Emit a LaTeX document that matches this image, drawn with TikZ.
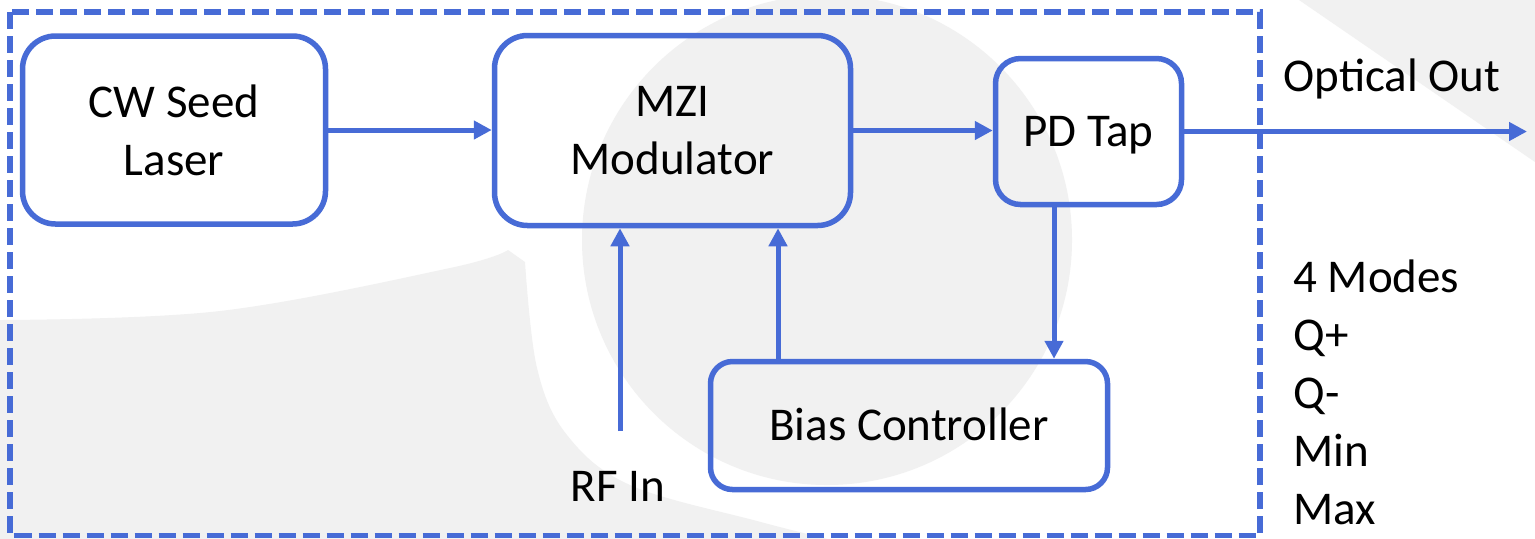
\documentclass[tikz,border=0pt]{standalone}
\usepackage{fontspec}
\setmainfont{Carlito}
\usetikzlibrary{arrows.meta}
\definecolor{bblue}{RGB}{71,107,214}
\definecolor{wm}{RGB}{241,241,241}
\newcommand\boxfont{\fontsize{23.5pt}{29pt}\selectfont}
\begin{document}
\begin{tikzpicture}[x=0.5pt,y=-0.5pt,
  box/.style={draw=bblue,line width=2.75pt,align=center,font=\boxfont,inner sep=0pt},
  conn/.style={draw=bblue,line width=2.5pt,-{Triangle[length=9pt,width=9pt]}},
  lbl/.style={font=\boxfont,inner sep=0pt},
  frame/.style={draw=bblue,line width=2.6pt,dash pattern=on 8.67pt off 3.33pt}]
\fill[white] (0,0) rectangle (1535,538);
\useasboundingbox (0,0) rectangle (1535,538);
% watermark shapes
\fill[wm] (1299,0) -- (1535,0) -- (1535,162) -- cycle;
\fill[wm] (827,240) circle[radius=122.5pt];
\fill[wm] plot[smooth,tension=0.6] coordinates {(0,320) (220,311) (450,268) (508,250)}
  -- plot[smooth,tension=0.6] coordinates {(525,262) (537,368) (567,435) (630,485) (757,521) (840,542)}
  -- (0,542) -- cycle;
% frame
\draw[frame] (10,12) rectangle (1260,535.5);
% boxes
\node[box,minimum width=151.5pt,minimum height=94pt,rounded corners=16.5pt] (cw) at (174,130) {CW Seed\\Laser};
\node[box,minimum width=178pt,minimum height=95pt,rounded corners=16.5pt] (mzi) at (672.5,130.5) {MZI\\Modulator};
\node[box,minimum width=93pt,minimum height=73pt,rounded corners=12.5pt,text height=14.85pt,text depth=0pt] (pd) at (1088.5,131.5) {PD Tap};
\node[box,minimum width=198.5pt,minimum height=64pt,rounded corners=11pt,text height=14.85pt,text depth=0pt] (bias) at (909,425.5) {Bias Controller};
% labels
\node[lbl,anchor=base] (rf) at (618,501) {RF In};
\node[lbl,anchor=base west] (opt) at (1283,91) {Optical Out};
\node[lbl,anchor=south west,align=left] (modes) at (1293,525) {4 Modes\\Q+\\Q-\\Min\\Max};
% connectors
\coordinate (out) at (1527,132);
\coordinate (pdx) at (1054,0);
\coordinate (bx) at (778,0);
\coordinate (rfin) at (620,431);
\draw[conn] (cw.east) -- (cw.east -| mzi.west);
\draw[conn] (mzi.east) -- (mzi.east -| pd.west);
\draw[conn] (pd.east) -- (out |- pd.east);
\draw[conn] (pd.south -| pdx) -- (bias.north -| pdx);
\draw[conn] (bias.north -| bx) -- (mzi.south -| bx);
\draw[conn] (rfin) -- (mzi.south -| rfin);
\end{tikzpicture}
\end{document}
